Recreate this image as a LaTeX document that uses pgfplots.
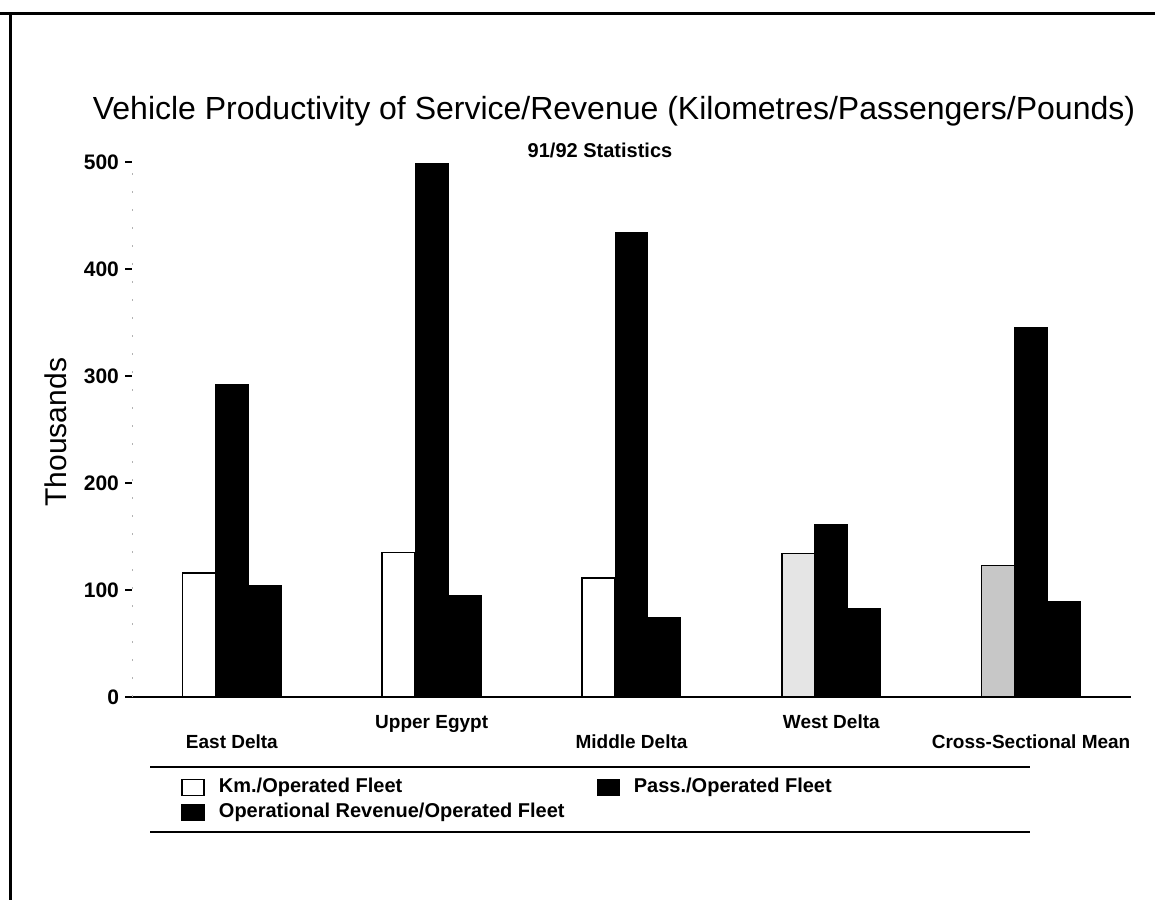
\documentclass[border=0pt]{standalone}
\usepackage{pgfplots}
\pgfplotsset{compat=1.18}
\usepackage{fontspec}
\setmainfont{Liberation Sans}
\begin{document}
\begin{tikzpicture}[x=0.5pt,y=0.5pt]
\path[use as bounding box] (0,0) rectangle (1155,900);
% page frame
\draw[line width=1.5pt] (0,886) -- (1155,886);
\draw[line width=1.5pt] (10,886) -- (10,0);
% titles
\node[font=\fontsize{16}{19}\selectfont, anchor=base] at (614,780) {Vehicle Productivity of Service/Revenue (Kilometres/Passengers/Pounds)};
\node[font=\bfseries\fontsize{10}{12}\selectfont, anchor=base] at (600,742) {91/92 Statistics};
% legend rules
\draw[line width=0.6pt] (150,133) -- (1030,133);
\draw[line width=0.6pt] (150,68) -- (1030,68);
\begin{axis}[
  at={(66pt,101.5pt)}, anchor=south west,
  scale only axis, width=499.5pt, height=267.5pt,
  xmin=-0.5, xmax=4.5, ymin=0, ymax=500,
  enlargelimits=false, clip=false,
  axis x line=bottom, axis y line=left,
  axis line style={-},
  x axis line style={line width=1pt},
  y axis line style={draw=black!30, line width=0.4pt, dash pattern=on 1pt off 8pt},
  ytick={0,100,...,500},
  tick align=outside, major tick length=3.5pt,
  ytick style={black, line width=0.8pt},
  xtick={0,1,2,3,4},
  xtick style={draw=none},
  xticklabels={{\raisebox{-10pt}{East Delta}},{Upper Egypt},{\raisebox{-10pt}{Middle Delta}},{West Delta},{\raisebox{-10pt}{Cross-Sectional Mean}}},
  xticklabel style={anchor=base, yshift=-12pt, font=\bfseries\fontsize{9.5}{11}\selectfont},
  yticklabel style={font=\bfseries\fontsize{10.5}{12}\selectfont, xshift=0.5pt},
  /pgf/number format/assume math mode=true,
  every axis y label/.style={at={(axis description cs:-0.076,0.495)}, rotate=90, anchor=center},
  ylabel={\fontsize{15}{18}\selectfont Thousands},
  ybar, bar width=0.165,
  legend columns=2,
  legend cell align=left,
  legend style={at={(axis description cs:0.049,-0.145)}, anchor=north west, draw=none, fill=none, inner sep=0pt,
    font=\bfseries\fontsize{10}{12}\selectfont,
    nodes={text height=7.5pt, text depth=2.5pt, inner ysep=1.25pt},
    /tikz/every even column/.append style={column sep=14pt}},
  legend image code/.code={\draw[#1, line width=0.8pt] (0pt,-4pt) rectangle (11pt,4pt); \path (16pt,0pt);},
]
\addplot[bar shift=-0.165, fill=white, draw=black, line width=0.8pt] coordinates {(0,116) (1,135) (2,111)};
\addlegendentry{Km./Operated Fleet}
\addplot[bar shift=-0.165, fill=black!10, draw=black, line width=0.8pt, forget plot] coordinates {(3,134)};
\addplot[bar shift=-0.165, fill=black!22, draw=black, line width=0.8pt, forget plot] coordinates {(4,123)};
\addplot[bar shift=0, fill=black, draw=black, line width=0.5pt] coordinates {(0,292) (1,499) (2,434) (3,161) (4,345)};
\addlegendentry{Pass./Operated Fleet}
\addplot[bar shift=0.165, fill=black, draw=black, line width=0.5pt] coordinates {(0,104) (1,95) (2,74) (3,83) (4,89)};
\addlegendentry{Operational Revenue/Operated Fleet}
\end{axis}
\end{tikzpicture}
\end{document}
